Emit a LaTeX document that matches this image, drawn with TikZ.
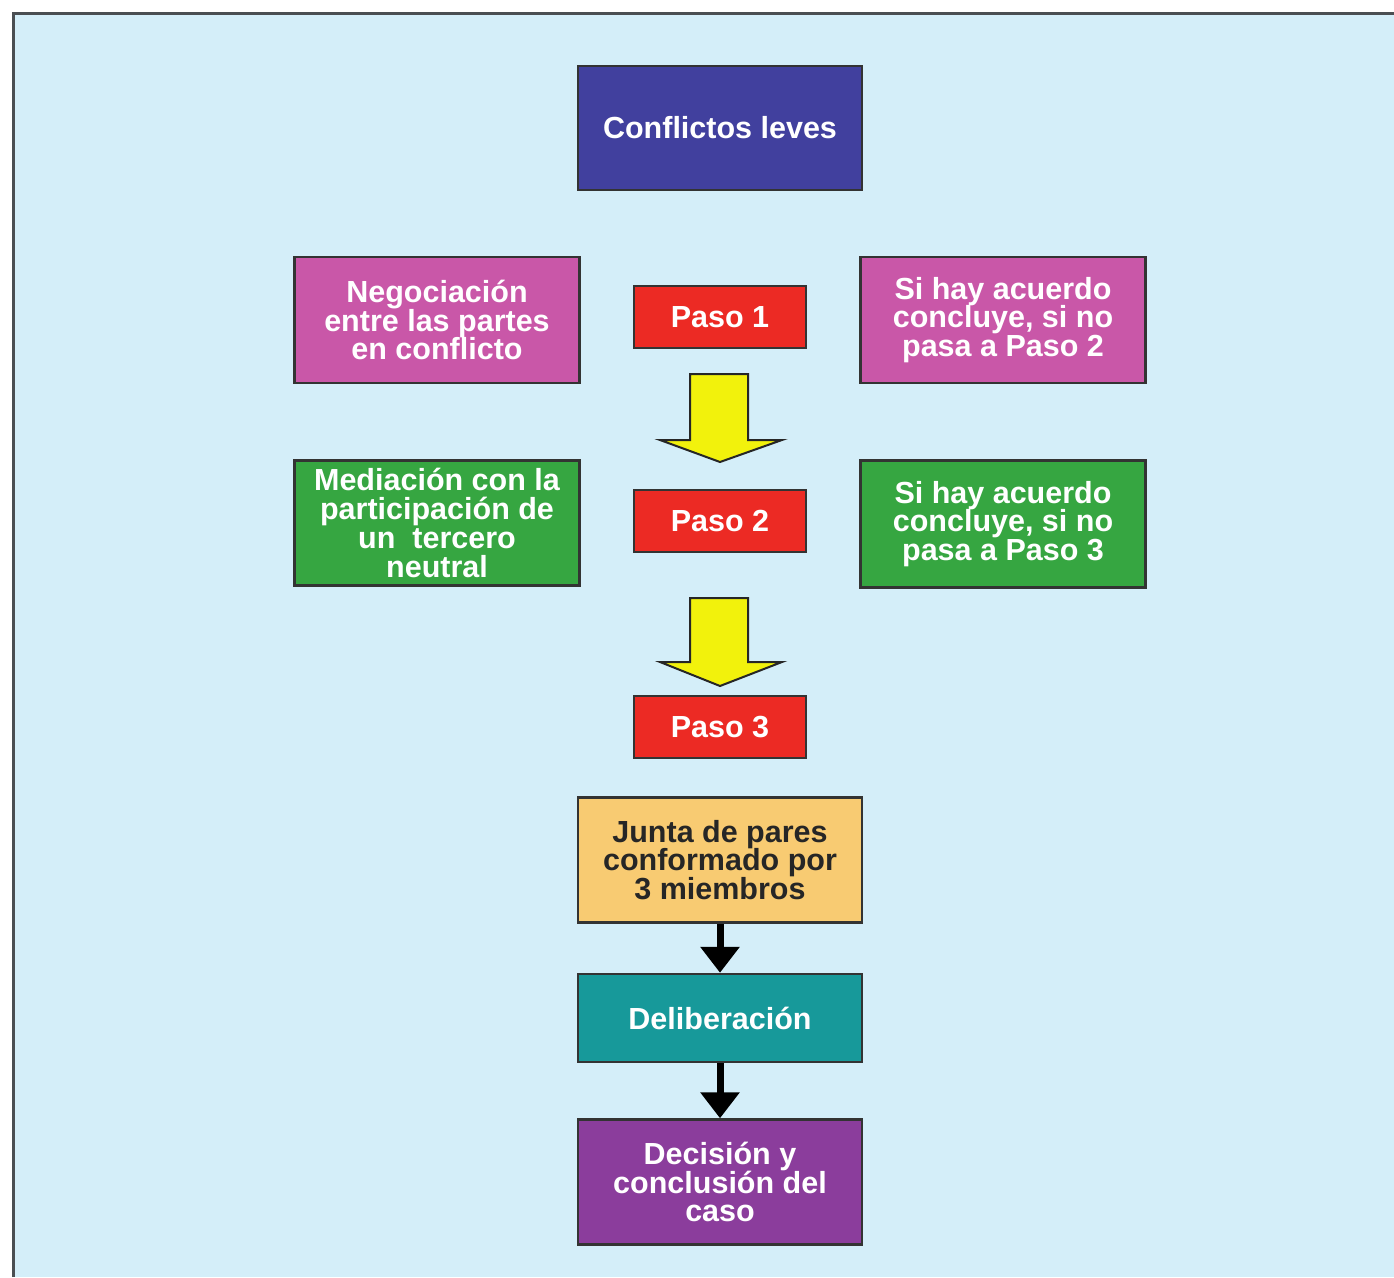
\documentclass[tikz,border=0pt]{standalone}
\usepackage{fontspec}
\setmainfont{Liberation Sans}
\usetikzlibrary{arrows.meta}
\begin{document}
\begin{tikzpicture}[x=1pt,y=-1pt,
  box/.style={draw=black!80, line width=2.5pt, align=center, inner sep=0pt,
    font=\fontsize{30.5}{28.8}\selectfont\bfseries, text=white},
  wide/.style={box, minimum width=284pt, minimum height=125pt},
  paso/.style={box, fill=pasored, minimum width=172pt, minimum height=62pt},
  yarrow/.style={draw=black!85, line width=2pt, fill=arrowyellow, line join=miter},
  barrow/.style={draw=black, line width=7pt, -{Triangle[width=38pt,length=26pt]}}
]
\definecolor{bg}{HTML}{D4EEF9}
\definecolor{frame}{HTML}{4A4E52}
\definecolor{conflblue}{HTML}{41409E}
\definecolor{pinkbox}{HTML}{C957A8}
\definecolor{greenbox}{HTML}{36A641}
\definecolor{pasored}{HTML}{EC2A24}
\definecolor{arrowyellow}{HTML}{F2F20C}
\definecolor{juntayellow}{HTML}{F8CB72}
\definecolor{teal}{HTML}{17999A}
\definecolor{purplebox}{HTML}{8B3D9C}
\useasboundingbox (0,0) rectangle (1394,1277);
\fill[white] (0,0) rectangle (1394,1277);
\fill[bg] (12,12) rectangle (1394,1277);
\draw[frame, line width=3pt] (13,1277) -- (13,13) -- (1394,13);

\node[wide, fill=conflblue, minimum height=124pt] (conf) at (720,128) {Conflictos leves};
\node[wide, fill=pinkbox, minimum width=285pt, minimum height=126pt] (nego) at (437,320)
  {Negociación\\entre las partes\\en conflicto};
\node[paso] (p1) at (720,317) {Paso 1};
\node[wide, fill=pinkbox, minimum width=285pt, minimum height=126pt] (si2) at (1003,320)
  {Si hay acuerdo\\concluye, si no\\pasa a Paso 2};
\node[wide, fill=greenbox, minimum width=285pt, minimum height=125pt] (medi) at (437,523)
  {Mediación con la\\participación de\\un \ tercero\\neutral};
\node[paso] (p2) at (720,521) {Paso 2};
\node[wide, fill=greenbox, minimum width=285pt, minimum height=127pt] (si3) at (1003,524)
  {Si hay acuerdo\\concluye, si no\\pasa a Paso 3};
\node[paso] (p3) at (720,727) {Paso 3};
\node[wide, fill=juntayellow, text=black!85] (junta) at (720,860)
  {Junta de pares\\conformado por\\3 miembros};
\node[wide, fill=teal, minimum height=88pt] (delib) at (720,1018) {Deliberación};
\node[wide, fill=purplebox] (deci) at (720,1182) {Decisión y\\conclusión del\\caso};

% yellow block arrows
\draw[yarrow] (690,374) -- (748,374) -- (748,440) -- (782,440) -- (720,462)
  -- (660,440) -- (690,440) -- cycle;
\draw[yarrow] (690,598) -- (748,598) -- (748,662) -- (782,662) -- (720,686)
  -- (660,662) -- (690,662) -- cycle;

% black arrows
\draw[barrow] (junta.south) -- (delib.north);
\draw[barrow] (delib.south) -- (deci.north);
\end{tikzpicture}
\end{document}
